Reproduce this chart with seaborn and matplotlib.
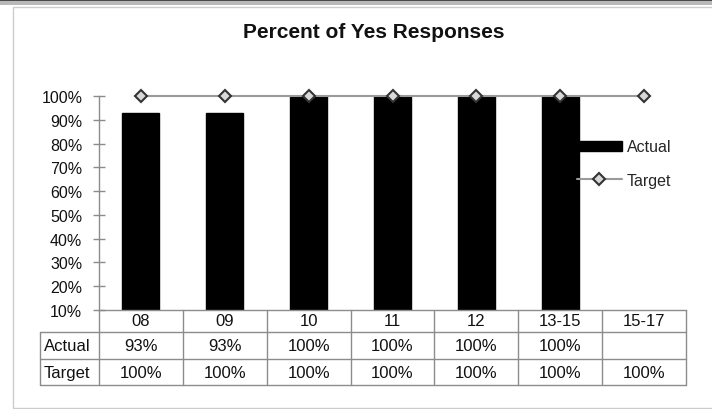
import numpy as np
import pandas as pd
import matplotlib
matplotlib.use("Agg")
import matplotlib.pyplot as plt
from matplotlib.lines import Line2D
from matplotlib.patches import Rectangle, Patch
from matplotlib.transforms import blended_transform_factory
import seaborn as sns

# Survey results by period
categories = ["08", "09", "10", "11", "12", "13-15", "15-17"]
actual = [93, 93, 100, 100, 100, 100, np.nan]
target = [100, 100, 100, 100, 100, 100, 100]
y_ticks = [10, 20, 30, 40, 50, 60, 70, 80, 90, 100]

sns.set_theme(style="white")
plt.rcParams["font.family"] = ["Liberation Sans", "DejaVu Sans"]

W, H = 712, 410
fig = plt.figure(figsize=(W / 100, H / 100), dpi=100)
fig.patch.set_facecolor("white")


def fx(px):
    return px / W


def fy(py):
    return 1 - py / H


# window-style top edge and chart border
fig.add_artist(Rectangle((0, fy(2)), 1, fy(0) - fy(2), transform=fig.transFigure,
                         facecolor="#4a4a4a", edgecolor="none"))
fig.add_artist(Rectangle((0, fy(6)), 1, fy(2) - fy(6), transform=fig.transFigure,
                         facecolor="#b8b8b8", edgecolor="none"))
fig.add_artist(Rectangle((fx(13), fy(409)), 1.2, fy(8) - fy(409), transform=fig.transFigure,
                         facecolor="none", edgecolor="#cccccc", lw=1))

left_px, right_px, top_px, bottom_px = 99, 686, 97, 311
ax = fig.add_axes([fx(left_px), fy(bottom_px), fx(right_px - left_px),
                   fy(top_px) - fy(bottom_px)])
ax.set_facecolor("none")

df = pd.DataFrame({"Period": categories, "Actual": actual})
sns.barplot(data=df, x="Period", y="Actual", order=categories, color="black",
            saturation=1, width=0.44, ax=ax, zorder=2)
for p in ax.patches:
    p.set_facecolor("black")
    p.set_edgecolor("black")

xpos = np.arange(len(categories))
ax.plot(xpos, target, color="#9a9a9a", lw=1.5, marker="D", ms=6,
        mfc="#d8d8d8", mec="#333333", mew=1.5, zorder=3, clip_on=False)

ax.set_xlim(-0.5, len(categories) - 0.5)
ax.set_ylim(10, 100)
ax.set_yticks(y_ticks)
ax.set_yticklabels([f"{t}%" for t in y_ticks])
ax.set_xticks([])
ax.set_xlabel("")
ax.set_ylabel("")
for s in ["top", "right"]:
    ax.spines[s].set_visible(False)
for s in ["left", "bottom"]:
    ax.spines[s].set_color("#8c8c8c")
    ax.spines[s].set_linewidth(1)
ax.tick_params(axis="y", direction="inout", length=8, width=1, color="#8c8c8c",
               pad=8, labelsize=11.5, labelcolor="#111111", left=True)

# data table below the plot
tr = blended_transform_factory(ax.transData, fig.transFigure)
grid_col = "#8c8c8c"
row_lines = [333, 360, 386]
label_left = 40
for yl in row_lines:
    fig.add_artist(Line2D([fx(label_left), fx(right_px)], [fy(yl), fy(yl)],
                          transform=fig.transFigure, color=grid_col, lw=1))
fig.add_artist(Line2D([fx(label_left), fx(label_left)], [fy(333), fy(386)],
                      transform=fig.transFigure, color=grid_col, lw=1))
for b in np.arange(len(categories) + 1) - 0.5:
    fig.add_artist(Line2D([b, b], [fy(bottom_px), fy(386)], transform=tr,
                          color=grid_col, lw=1))

tsize = 12
for i, c in enumerate(categories):
    fig.text(i, fy(322), c, transform=tr, ha="center", va="center",
             fontsize=tsize, color="#111111")
    a = actual[i]
    fig.text(i, fy(347), "" if np.isnan(a) else f"{a:.0f}%", transform=tr,
             ha="center", va="center", fontsize=tsize, color="#111111")
    fig.text(i, fy(373.5), f"{target[i]:.0f}%", transform=tr,
             ha="center", va="center", fontsize=tsize, color="#111111")
fig.text(fx(44), fy(347), "Actual", ha="left", va="center", fontsize=tsize,
         color="#111111")
fig.text(fx(44), fy(373.5), "Target", ha="left", va="center", fontsize=tsize,
         color="#111111")

# legend
handles = [Patch(facecolor="black", edgecolor="black", label="Actual"),
           Line2D([], [], color="#9a9a9a", lw=1.5, marker="D", ms=6, mfc="#d8d8d8",
                  mec="#333333", mew=1.5, label="Target")]
fig.legend(handles=handles, loc="center left", bbox_to_anchor=(fx(577), fy(164.5)),
           frameon=False, fontsize=11.5, handlelength=2.8, handleheight=0.6,
           handletextpad=0.3, labelspacing=1.15, borderpad=0, borderaxespad=0)

fig.text(fx(374), fy(32), "Percent of Yes Responses", ha="center", va="center",
         fontsize=15, fontweight="bold", color="#111111")

fig.savefig("out.png", dpi=100, facecolor="white")
